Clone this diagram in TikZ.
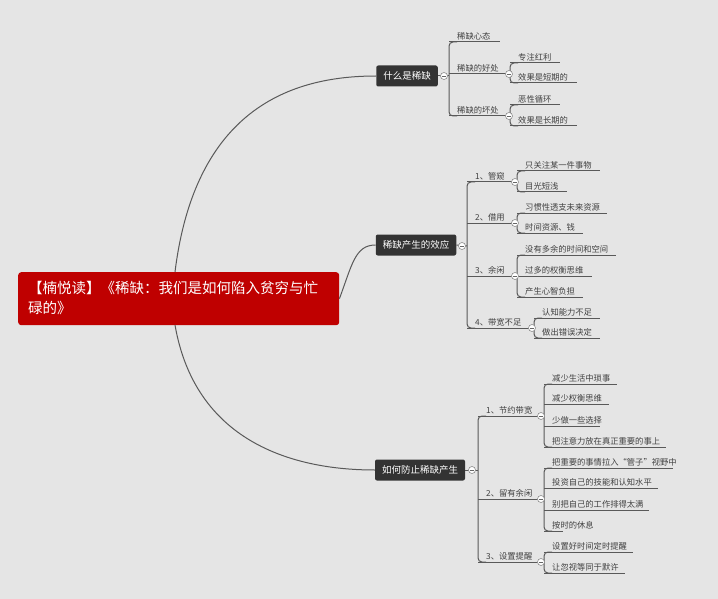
\documentclass[tikz,border=0pt]{standalone}
\usepackage{fontspec}
\setmainfont{Noto Sans CJK SC}
\begin{document}
\begin{tikzpicture}[x=1pt,y=-1pt,
  ln/.style={draw=black!65,line width=1pt},
  lbl/.style={anchor=south west,inner sep=1pt,font=\fontsize{8.3}{9}\selectfont,text=black!75},
  mainbox/.style={fill=black!80,rounded corners=2pt,text=white,font=\fontsize{9.5}{11}\selectfont,minimum height=21pt,inner xsep=7pt},
  knob/.style={circle,fill=white,draw=black!45,line width=0.6pt,minimum size=7pt,inner sep=0pt,path picture={\draw[black!60,line width=0.6pt] ([xshift=-2pt]path picture bounding box.center)--([xshift=2pt]path picture bounding box.center);}}]
\useasboundingbox (0,0) rectangle (718,599);
\fill[black!10] (0,0) rectangle (718,599);
\newcommand{\itm}[4]{\draw[ln] (#1,#2) -- (#3,#2); \node[lbl] at (#1+7,#2-1) {#4};}
\newcommand{\brk}[3]{\draw[ln,rounded corners=4pt] (#1+8,#2) -- (#1,#2) -- (#1,#3) -- (#1+8,#3);}
% root
\node[fill=red!75!black,rounded corners=3pt,anchor=north west,minimum width=321pt,minimum height=53pt,inner sep=0pt] (root) at (18,272) {};
\node[text=white,font=\fontsize{14.5}{20}\selectfont,align=left,anchor=west,inner sep=0pt] (roottext) at (28,298) {【楠悦读】《稀缺：我们是如何陷入贫穷与忙\\碌的》};
\node[mainbox] (m1) at (407,76) {什么是稀缺};
\node[mainbox] (m2) at (416,245) {稀缺产生的效应};
\node[mainbox] (m3) at (420,470) {如何防止稀缺产生};
\draw[ln] (175,272) .. controls (195,110) and (290,76) .. (m1.west);
\draw[ln] (root.east) .. controls (352,265) and (355,245) .. (m2.west);
\draw[ln] (175,325) .. controls (195,440) and (290,470) .. (m3.west);
% subtree 1
\draw[ln] (m1.east) -- (449,76);
\brk{449}{42}{116}
\itm{449}{42}{500}{稀缺心态}
\itm{449}{74}{509}{稀缺的好处}
\itm{449}{116}{509}{稀缺的坏处}
\brk{510}{63}{83} \itm{510}{63}{560}{专注红利} \itm{510}{83}{577}{效果是短期的}
\brk{510}{105}{126} \itm{510}{105}{560}{恶性循环} \itm{510}{126}{577}{效果是长期的}
\node[knob] at (444,76) {}; \node[knob] at (509,74) {}; \node[knob] at (509,116) {};
% subtree 2
\draw[ln] (m2.east) -- (467,246);
\brk{467}{182}{328}
\itm{467}{182}{515}{1、管窥}
\itm{467}{223}{515}{2、借用}
\itm{467}{276}{515}{3、余闲}
\itm{467}{328}{532}{4、带宽不足}
\brk{517}{171}{192} \itm{517}{171}{600}{只关注某一件事物} \itm{517}{192}{567}{目光短浅}
\brk{517}{213}{233} \itm{517}{213}{607}{习惯性透支未来资源} \itm{517}{233}{583}{时间资源、钱}
\brk{517}{255}{297} \itm{517}{255}{616}{没有多余的时间和空间} \itm{517}{276}{592}{过多的权衡思维} \itm{517}{297}{583}{产生心智负担}
\brk{534}{318}{338} \itm{534}{318}{600}{认知能力不足} \itm{534}{338}{600}{做出错误决定}
\node[knob] at (462,246) {}; \node[knob] at (515,182) {}; \node[knob] at (515,223) {}; \node[knob] at (515,276) {}; \node[knob] at (532,328) {};
% subtree 3
\draw[ln] (m3.east) -- (478,470);
\brk{478}{416}{562}
\itm{478}{416}{541}{1、节约带宽}
\itm{478}{499}{541}{2、留有余闲}
\itm{478}{562}{541}{3、设置提醒}
\brk{544}{384}{447} \itm{544}{384}{617}{减少生活中琐事} \itm{544}{404}{609}{减少权衡思维} \itm{544}{426}{600}{少做一些选择} \itm{544}{447}{666}{把注意力放在真正重要的事上}
\brk{544}{468}{531} \itm{544}{468}{673}{把重要的事情拉入“管子”视野中} \itm{544}{488}{658}{投资自己的技能和认知水平} \itm{544}{510}{649}{别把自己的工作排得太满} \itm{544}{531}{563}{按时的休息}
\brk{544}{552}{573} \itm{544}{552}{633}{设置好时间定时提醒} \itm{544}{573}{625}{让忽视等同于默许}
\node[knob] at (472,470) {}; \node[knob] at (541,416) {}; \node[knob] at (541,499) {}; \node[knob] at (541,562) {};
\end{tikzpicture}
\end{document}
